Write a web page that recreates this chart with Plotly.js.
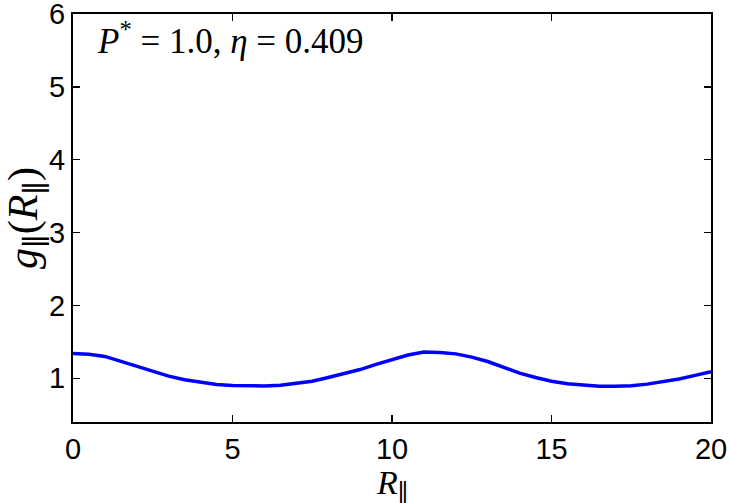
<!DOCTYPE html>
<html>
<head>
<meta charset="utf-8">
<script src="https://cdn.plot.ly/plotly-3.0.1.min.js"></script>
<style>html,body{margin:0;padding:0;background:#fff;}#chart{width:730px;height:503px;}</style>
</head>
<body>
<div id="chart"></div>
<script>
const R = [0,0.5,1,1.5,2,2.5,3,3.5,4,4.5,5,5.5,6,6.5,7,7.5,8,8.5,9,9.5,10,10.5,11,11.5,12,12.5,13,13.5,14,14.5,15,15.5,16,16.5,17,17.5,18,18.5,19,19.5,20];
const g = [1.34,1.33,1.30,1.23,1.16,1.09,1.03,0.98,0.945,0.915,0.90,0.895,0.895,0.905,0.93,0.96,1.01,1.06,1.12,1.19,1.25,1.32,1.36,1.355,1.335,1.29,1.23,1.15,1.07,1.01,0.96,0.925,0.905,0.892,0.89,0.898,0.92,0.95,0.99,1.04,1.09];
const xTicks = [0,5,10,15,20];
const yTicks = [1,2,3,4,5,6];
const label = '<i>P</i><sup>*</sup> = 1.0, <i>η</i> = 0.409';
const xTitle = '<i>R</i><sub>∥</sub>';
const yTitle = '<i>g</i><sub>∥</sub>(<i>R</i><sub>∥</sub>)';

const serif = 'Liberation Serif, DejaVu Serif, serif';
const tickFont = {family: 'Liberation Sans, Arial, sans-serif', size: 29, color: '#000'};
const axisCommon = {
  showline: true, linecolor: '#000', linewidth: 2, mirror: 'ticks',
  ticks: 'inside', ticklen: 7, tickwidth: 1.5, tickcolor: '#000',
  showgrid: false, zeroline: false, tickfont: tickFont, automargin: false
};
const layout = {
  width: 730, height: 503,
  margin: {l: 73, r: 19, t: 14, b: 81},
  paper_bgcolor: '#fff', plot_bgcolor: '#fff',
  showlegend: false,
  xaxis: Object.assign({}, axisCommon, {
    range: [0, 20], tickvals: xTicks, ticktext: xTicks.map(String)
  }),
  yaxis: Object.assign({}, axisCommon, {
    range: [0.4, 6.0005], tickvals: yTicks, ticktext: yTicks.map(String),
    ticklabeloverflow: 'allow',
    title: {text: yTitle, font: {family: serif, size: 42, color: '#000'}, standoff: 6}
  }),
  annotations: [{
    xref: 'paper', yref: 'paper', x: 0.035, y: 0.94, xanchor: 'left', yanchor: 'middle',
    text: label, showarrow: false,
    font: {family: serif, size: 35, color: '#000'}
  }, {
    xref: 'paper', yref: 'paper', x: 0.5, y: -0.1, xanchor: 'center', yanchor: 'top',
    text: xTitle, showarrow: false, borderpad: 0,
    font: {family: serif, size: 34, color: '#000'}
  }]
};
const data = [{
  x: R, y: g, type: 'scatter', mode: 'lines', line: {color: '#0000ff', width: 3.5}
}];
Plotly.newPlot('chart', data, layout, {displayModeBar: false, staticPlot: true});
</script>
</body>
</html>
